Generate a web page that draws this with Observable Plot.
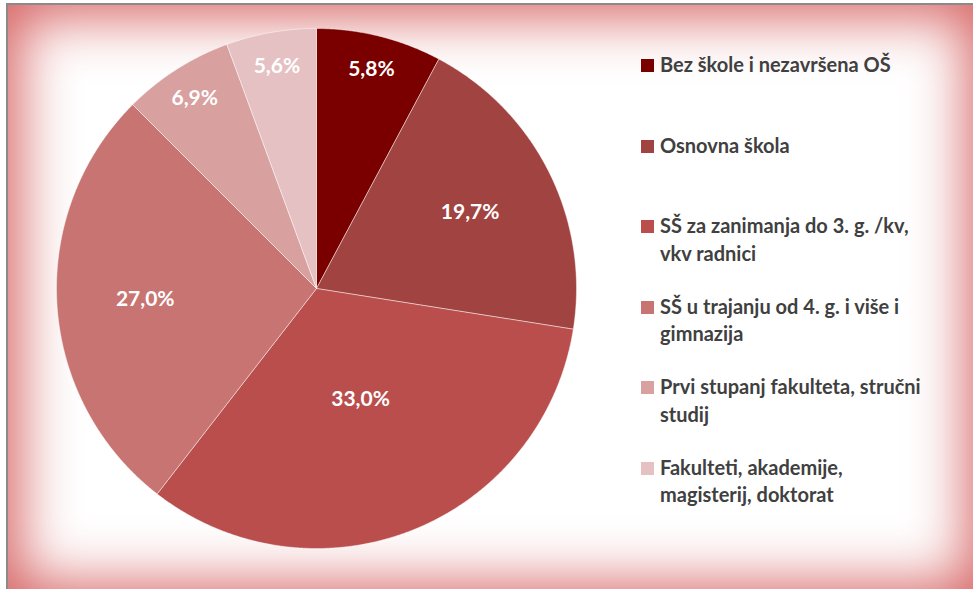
<!DOCTYPE html>
<html>
<head>
<meta charset="utf-8">
<script src="https://cdn.jsdelivr.net/npm/d3@7"></script>
<script src="https://cdn.jsdelivr.net/npm/@observablehq/plot@0.6"></script>
<style>
  html, body { margin: 0; padding: 0; background: #ffffff; }
  body { width: 973px; height: 589px; position: relative; overflow: hidden; font-family: Lato, "Open Sans", sans-serif; }
  #frame {
    position: absolute; left: 6px; top: 3px; width: 971px; height: 590px;
    border-left: 2px solid #8a8a8a; border-top: 2px solid #8a8a8a;
    box-shadow: inset 0 0 55px 12px rgba(210, 78, 78, 0.88);
    background: #ffffff;
  }
  #chart { position: absolute; left: 0; top: 0; }
  #legend { position: absolute; left: 641px; top: 51px; width: 320px; }
  .item { display: flex; align-items: flex-start; height: 80.5px; }
  .sw { width: 13px; height: 13px; margin-top: 8px; margin-right: 6px; flex: none; }
  .lbl { font-weight: bold; font-size: 20px; line-height: 27.5px; color: #404040; width: 270px; }
</style>
</head>
<body>
<div id="frame"></div>
<div id="chart"></div>
<div id="legend"></div>
<script>
const categories = [
  "Bez škole i nezavršena OŠ",
  "Osnovna škola",
  "SŠ za zanimanja do 3. g. /kv, vkv radnici",
  "SŠ u trajanju od 4. g. i više i gimnazija",
  "Prvi stupanj fakulteta, stručni studij",
  "Fakulteti, akademije, magisterij, doktorat"
];
const values = [7.8, 19.7, 33.0, 27.0, 6.9, 5.6];
const labels = ["5,8%", "19,7%", "33,0%", "27,0%", "6,9%", "5,6%"];
const colors = ["#7a0000", "#a04341", "#b94e4c", "#c87472", "#d9a0a0", "#e5c1c3"];

const rows = categories.map((c, i) => ({category: c, value: values[i], label: labels[i]}));
const arcs = d3.pie().sort(null).value(d => d.value)(rows);

const pts = [];
for (const a of arcs) {
  const n = Math.max(2, Math.ceil((a.endAngle - a.startAngle) / 0.005));
  pts.push({category: a.data.category, x: 0, y: 0});
  for (let k = 0; k <= n; k++) {
    const t = a.startAngle + (a.endAngle - a.startAngle) * k / n;
    pts.push({category: a.data.category, x: Math.sin(t), y: Math.cos(t)});
  }
  pts.push({category: a.data.category, x: 0, y: 0});
}

const labelPts = arcs.map(a => {
  const v = a.data.value;
  const r = v < 10 ? 0.87 : (v > 30 ? 0.46 : 0.66);
  const t = (a.startAngle + a.endAngle) / 2;
  return {x: r * Math.sin(t), y: r * Math.cos(t), text: a.data.label};
});

const plot = Plot.plot({
  width: 620, height: 589,
  marginLeft: 56, marginRight: 44, marginTop: 28, marginBottom: 41,
  x: {domain: [-1, 1], axis: null},
  y: {domain: [-1, 1], axis: null},
  color: {domain: categories, range: colors},
  style: {background: "transparent", overflow: "visible"},
  marks: [
    Plot.line(pts, {x: "x", y: "y", z: "category", fill: "category", stroke: "#ffffff", strokeOpacity: 0.45, strokeWidth: 1}),
    Plot.text(labelPts, {x: "x", y: "y", text: "text", fill: "white", fontWeight: "bold", fontSize: 21, fontFamily: "Lato, 'Open Sans', sans-serif"})
  ]
});
document.getElementById("chart").appendChild(plot);

const color = plot.scale("color");
const legend = d3.select("#legend");
for (const c of categories) {
  const it = legend.append("div").attr("class", "item");
  it.append("div").attr("class", "sw").style("background", color.apply(c));
  it.append("div").attr("class", "lbl").text(c);
}
</script>
</body>
</html>
